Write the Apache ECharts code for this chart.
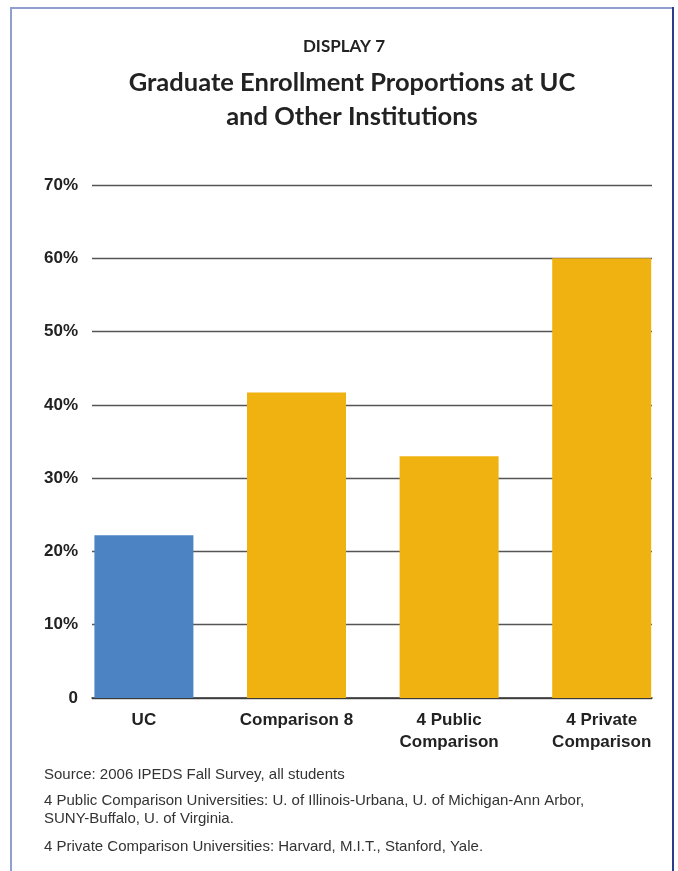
<!DOCTYPE html>
<html>
<head>
<meta charset="utf-8">
<script src="https://cdn.jsdelivr.net/npm/echarts@6/dist/echarts.min.js"></script>
<style>
html,body{margin:0;padding:0;background:#fff;}
#chart{width:678px;height:871px;}
</style>
</head>
<body>
<div id="chart"></div>
<script>
const categories = ['UC', 'Comparison 8', '4 Public\nComparison', '4 Private\nComparison'];
const values = [22.2, 41.7, 33.0, 60.0];
const barColors = ['#4c84c3', '#efb211', '#efb211', '#efb211'];
const yTicks = [0, 10, 20, 30, 40, 50, 60, 70];
const yTickLabels = ['0', '10%', '20%', '30%', '40%', '50%', '60%', '70%'];
const displayLabel = 'DISPLAY 7';
const titleLines = ['Graduate Enrollment Proportions at UC', 'and Other Institutions'];
const footnotes = [
  'Source: 2006 IPEDS Fall Survey, all students',
  '4 Public Comparison Universities: U. of Illinois-Urbana, U. of Michigan-Ann Arbor,\nSUNY-Buffalo, U. of Virginia.',
  '4 Private Comparison Universities: Harvard, M.I.T., Stanford, Yale.'
];

const chart = echarts.init(document.getElementById('chart'), null, {renderer: 'canvas'});
const labelFont = 'Liberation Sans, Arial, sans-serif';
const titleFont = 'Lato, "Open Sans", sans-serif';

const option = {
  animation: false,
  backgroundColor: '#fff',
  grid: [
    {left: 67.6, top: 185, width: 611.3, height: 513},
    {left: 92, top: 185, width: 560, height: 513}
  ],
  xAxis: [
    {
      type: 'category', gridIndex: 0, data: categories,
      axisLine: {show: false}, axisTick: {show: false},
      axisLabel: {
        margin: 11, color: '#222', fontFamily: labelFont, fontWeight: 'bold',
        fontSize: 17, lineHeight: 22, interval: 0
      }
    },
    {
      type: 'value', gridIndex: 1, min: 0, max: 1, show: true,
      axisLine: {show: true, onZero: false, lineStyle: {color: '#333', width: 1.5}},
      axisTick: {show: false}, axisLabel: {show: false}, splitLine: {show: false}
    }
  ],
  yAxis: [
    {
      type: 'value', gridIndex: 0, min: 0, max: 70, interval: 10, show: false
    },
    {
      type: 'value', gridIndex: 1, min: 0, max: 70, interval: 10,
      axisLine: {show: false}, axisTick: {show: false},
      axisLabel: {
        margin: 14, color: '#222', fontFamily: labelFont, fontWeight: 'bold', fontSize: 17,
        formatter: function (v) { const i = yTicks.indexOf(v); return i >= 0 ? yTickLabels[i] : ''; }
      },
      splitLine: {show: true, lineStyle: {color: '#555', width: 1.3}}
    }
  ],
  series: [
    {
      type: 'bar', xAxisIndex: 0, yAxisIndex: 0, barWidth: 99, z: 3,
      data: values.map((v, i) => ({value: v, itemStyle: {color: barColors[i]}}))
    }
  ],
  graphic: [
    {type: 'line', shape: {x1: 11, y1: 8, x2: 11, y2: 871}, style: {stroke: '#8e9fd0', lineWidth: 2}},
    {type: 'line', shape: {x1: 10, y1: 8, x2: 673, y2: 8}, style: {stroke: '#8e9fd0', lineWidth: 2}},
    {type: 'line', shape: {x1: 673, y1: 7, x2: 673, y2: 871}, style: {stroke: '#2b3d8c', lineWidth: 2}},
    {type: 'text', x: 344, y: 47, style: {text: displayLabel, fill: '#222', font: 'bold 17px ' + titleFont, textAlign: 'center', textVerticalAlign: 'middle'}},
    {type: 'text', x: 352, y: 83, style: {text: titleLines[0], fill: '#222', font: 'bold 25.5px ' + titleFont, textAlign: 'center', textVerticalAlign: 'middle'}},
    {type: 'text', x: 352, y: 117, style: {text: titleLines[1], fill: '#222', font: 'bold 25.5px ' + titleFont, textAlign: 'center', textVerticalAlign: 'middle'}},
    {type: 'text', x: 44, y: 775, style: {text: footnotes[0], fill: '#333', font: '15px ' + labelFont, textVerticalAlign: 'middle'}},
    {type: 'text', x: 44, y: 792, style: {text: footnotes[1], fill: '#333', font: '15px ' + labelFont, lineHeight: 18, textVerticalAlign: 'top'}},
    {type: 'text', x: 44, y: 847, style: {text: footnotes[2], fill: '#333', font: '15px ' + labelFont, textVerticalAlign: 'middle'}}
  ]
};
chart.setOption(option);
</script>
</body>
</html>
